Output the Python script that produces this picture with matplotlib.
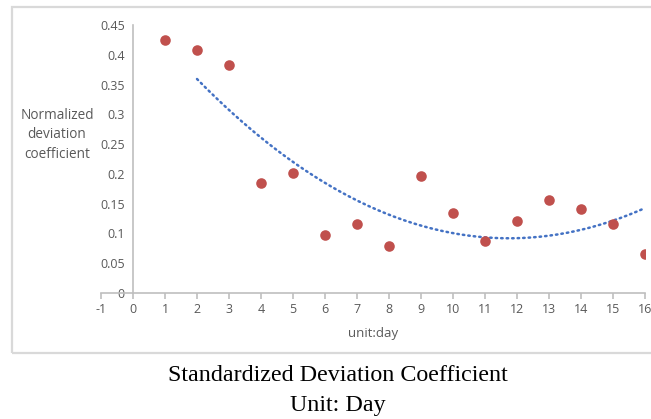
import numpy as np
import matplotlib
matplotlib.use("Agg")
import matplotlib.pyplot as plt
from matplotlib.patches import Rectangle

# values
days = [1, 2, 3, 4, 5, 6, 7, 8, 9, 10, 11, 12, 13, 14, 15, 16]
coef = [0.425, 0.408, 0.383, 0.185, 0.201, 0.097, 0.116, 0.079,
        0.196, 0.134, 0.087, 0.121, 0.156, 0.141, 0.116, 0.065]
x_ticks = list(range(-1, 17))
y_ticks = [0, 0.05, 0.1, 0.15, 0.2, 0.25, 0.3, 0.35, 0.4, 0.45]
y_tick_labels = ['0', '0.05', '0.1', '0.15', '0.2', '0.25', '0.3', '0.35', '0.4', '0.45']

grey = '#595959'
line = '#BFBFBF'
font = ['Open Sans', 'DejaVu Sans']

fig = plt.figure(figsize=(6.51, 4.19), dpi=100)
# chart border
fig.patches.append(Rectangle((12 / 651, 1 - 353 / 419), 660 / 651, 346 / 419,
                             transform=fig.transFigure, fill=False,
                             edgecolor='#D9D9D9', lw=1.6))

ax = fig.add_axes([101 / 651, 1 - 293 / 419, 544 / 651, 268 / 419])
ax.set_xlim(-1, 16)
ax.set_ylim(0, 0.45)

# trendline (2nd order polynomial, fitted on day 2 onward)
xs = np.array(days[1:])
ys = np.array(coef[1:])
p = np.polyfit(xs, ys, 2)
xx = np.linspace(2, 16, 200)
ax.plot(xx, np.polyval(p, xx), color='#4472C4', lw=1.8, ls=(0, (0.6, 1.6)),
        dash_capstyle='round', zorder=2)

ax.scatter(days, coef, s=58, color='#C0504D', zorder=3, linewidths=0)

for s in ['top', 'right']:
    ax.spines[s].set_visible(False)
ax.spines['left'].set_position(('data', 0))
ax.spines['left'].set_color(line)
ax.spines['bottom'].set_color(line)
ax.spines['left'].set_linewidth(1.2)
ax.spines['bottom'].set_linewidth(1.2)

ax.set_xticks(x_ticks)
ax.set_xticklabels([str(t) for t in x_ticks], fontsize=9, color=grey, family=font)
ax.set_yticks(y_ticks)
ax.set_yticklabels(y_tick_labels, fontsize=9, color=grey, family=font)
ax.tick_params(axis='x', direction='out', length=4, color=line, width=1.2, pad=3)
ax.tick_params(axis='y', length=0, pad=6)

ax.set_xlabel('unit:day', fontsize=9.5, color=grey, family=font, labelpad=8)
fig.text(57 / 651, 1 - 135 / 419, 'Normalized\ndeviation\ncoefficient',
         ha='center', va='center', fontsize=9.8, color=grey, family=font,
         linespacing=1.45)

fig.text(338 / 651, 1 - 375 / 419, 'Standardized Deviation Coefficient',
         ha='center', va='center', fontsize=17.3, family='Liberation Serif')
fig.text(338 / 651, 1 - 405 / 419, 'Unit: Day',
         ha='center', va='center', fontsize=17.3, family='Liberation Serif')

fig.savefig('out.png', dpi=100)
